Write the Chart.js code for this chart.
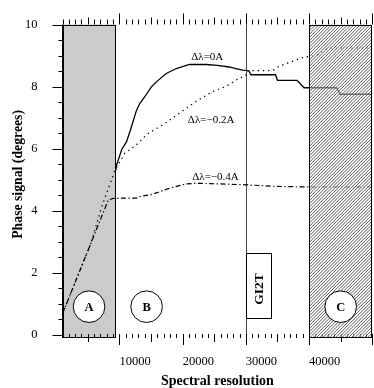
<!DOCTYPE html>
<html><head><meta charset="utf-8">
<script src="https://cdn.jsdelivr.net/npm/chart.js@4/dist/chart.umd.min.js"></script>
<style>html,body{margin:0;padding:0;background:#fff;overflow:hidden}</style>
</head><body>
<canvas id="c" width="374" height="388"></canvas>
<script>
// ---- data ----
const xTickLabels = [10000, 20000, 30000, 40000];
const yTickLabels = [0, 2, 4, 6, 8, 10];
const seriesNames = ['Δλ=0A', 'Δλ=−0.2A', 'Δλ=−0.4A'];

const res0   = [9450, 9560, 10350, 11130, 11920, 12700, 13220, 14010, 15060, 15850, 17420, 19000, 21080, 23710, 25500, 27370, 28430, 29460, 30000, 30500, 30800, 34700, 35000, 38100, 39200, 44350, 44900, 50000];
const phase0 = [5.30, 5.47, 5.96, 6.22, 6.71, 7.23, 7.45, 7.67, 7.99, 8.15, 8.42, 8.58, 8.71, 8.71, 8.68, 8.63, 8.58, 8.53, 8.52, 8.50, 8.38, 8.38, 8.20, 8.20, 7.96, 7.96, 7.75, 7.75];

const res02   = [1000, 5500, 7200, 9300, 10080, 10860, 11920, 12700, 13740, 14280, 16890, 19510, 22140, 24750, 26860, 28950, 30000, 30250, 34180, 35240, 37330, 39170, 41000, 43000, 50000];
const phase02 = [0.67, 2.95, 4.12, 5.30, 5.58, 5.85, 6.01, 6.12, 6.33, 6.45, 6.77, 7.14, 7.52, 7.84, 8.00, 8.27, 8.35, 8.51, 8.51, 8.65, 8.81, 8.95, 8.99, 9.24, 9.24];

const res04   = [1000, 8240, 9030, 10080, 12700, 13220, 15310, 17940, 20570, 22140, 25800, 30000, 34720, 40000, 50000];
const phase04 = [0.67, 4.34, 4.39, 4.40, 4.40, 4.45, 4.53, 4.72, 4.86, 4.88, 4.86, 4.83, 4.78, 4.76, 4.76];

const regionNames = ['A', 'B', 'C'];
const regionA = [1000, 9300];      // grey band (resolution)
const regionC = [40000, 50000];    // hatched band (resolution)
const gi2tName = 'GI2T';
const gi2tRange = [30000, 33900];  // resolution span of GI2T box
const gi2tPhase = [0.54, 2.62];

// annotation anchors (data coordinates)
const circleRes = [5200, 14300, 45000];
const circlePhase = 0.9;
const labelRes = [23900, 24500, 25200];
const labelPhase = [8.94, 6.93, 5.09];

const SERIF = '"Liberation Serif", "Times New Roman", serif';

function pts(xs, ys) { return xs.map((x, i) => ({ x: x, y: ys[i] })); }

const decor = {
  id: 'decor',
  beforeDatasetsDraw(chart) {
    const ctx = chart.ctx, xs = chart.scales.x, ys = chart.scales.y, a = chart.chartArea;
    ctx.save();
    // grey band A
    const ax0 = xs.getPixelForValue(regionA[0]), ax1 = Math.round(xs.getPixelForValue(regionA[1])) + 0.5;
    ctx.fillStyle = '#cbcbcb';
    ctx.fillRect(ax0, a.top, ax1 - ax0, a.bottom - a.top);
    // GI2T vertical line
    const gx = Math.round(xs.getPixelForValue(gi2tRange[0])) + 0.5;
    ctx.strokeStyle = '#444'; ctx.lineWidth = 1;
    ctx.beginPath(); ctx.moveTo(gx, a.top); ctx.lineTo(gx, a.bottom + 3); ctx.stroke();
    // ticks
    ctx.strokeStyle = '#000'; ctx.lineWidth = 1;
    ctx.beginPath();
    for (let v = 1000; v <= 50000; v += 1000) {
      const px = Math.round(xs.getPixelForValue(v)) + 0.5;
      let t, b0, b1;
      if (v % 10000 === 0) { t = 11; b0 = a.bottom - 4; b1 = a.bottom + 7; }
      else if (v % 5000 === 0) { t = 7; b0 = a.bottom - 4; b1 = a.bottom + 4; }
      else { t = 5; b0 = a.bottom - 4; b1 = a.bottom; }
      ctx.moveTo(px, a.top); ctx.lineTo(px, a.top - t);
      ctx.moveTo(px, b0); ctx.lineTo(px, b1);
    }
    for (let v = 0; v <= 10.001; v += 0.5) {
      const py = Math.round(ys.getPixelForValue(v)) + 0.5;
      const len = (Math.abs(v % 2) < 1e-6) ? 10 : 4;
      ctx.moveTo(a.left - len, py); ctx.lineTo(a.left, py);
    }
    ctx.moveTo(a.left, a.top); ctx.lineTo(a.left, a.bottom);
    ctx.stroke();
    ctx.restore();
  },
  afterDatasetsDraw(chart) {
    const ctx = chart.ctx, xs = chart.scales.x, ys = chart.scales.y, a = chart.chartArea;
    ctx.save();
    // hatched band C
    const cx0 = Math.round(xs.getPixelForValue(regionC[0])) + 0.5, cx1 = Math.round(xs.getPixelForValue(regionC[1])) - 0.5;
    ctx.save();
    ctx.beginPath(); ctx.rect(cx0, a.top, cx1 - cx0, a.bottom - a.top); ctx.clip();
    ctx.fillStyle = 'rgba(255,255,255,0.45)';
    ctx.fillRect(cx0, a.top, cx1 - cx0, a.bottom - a.top);
    ctx.strokeStyle = '#444'; ctx.lineWidth = 0.85;
    ctx.beginPath();
    const H = a.bottom - a.top;
    for (let s = cx0 - H; s < cx1 + 4; s += 3.2) {
      ctx.moveTo(s, a.bottom); ctx.lineTo(s + H, a.top);
    }
    ctx.stroke();
    ctx.restore();
    // borders of bands
    ctx.strokeStyle = '#000'; ctx.lineWidth = 1;
    const ax0 = Math.round(xs.getPixelForValue(regionA[0])) + 0.5, ax1 = Math.round(xs.getPixelForValue(regionA[1])) + 0.5;
    const top = Math.round(a.top) + 0.5, bot = Math.round(a.bottom) - 0.5;
    ctx.strokeRect(ax0, top, ax1 - ax0, bot - top);
    ctx.strokeRect(cx0, top, cx1 - cx0, bot - top);
    // circles A B C
    ctx.font = 'bold 12.5px ' + SERIF;
    ctx.textAlign = 'center'; ctx.textBaseline = 'middle';
    for (let i = 0; i < 3; i++) {
      const px = xs.getPixelForValue(circleRes[i]), py = ys.getPixelForValue(circlePhase);
      ctx.beginPath(); ctx.arc(px, py, 15.8, 0, Math.PI * 2);
      ctx.fillStyle = '#fff'; ctx.fill(); ctx.stroke();
      ctx.fillStyle = '#000'; ctx.fillText(regionNames[i], px, py + 1);
    }
    // GI2T box
    const gx0 = Math.round(xs.getPixelForValue(gi2tRange[0])) + 0.5, gx1 = Math.round(xs.getPixelForValue(gi2tRange[1])) + 0.5;
    const gy0 = Math.round(ys.getPixelForValue(gi2tPhase[1])) + 0.5, gy1 = Math.round(ys.getPixelForValue(gi2tPhase[0])) + 0.5;
    ctx.fillStyle = '#fff'; ctx.fillRect(gx0, gy0, gx1 - gx0, gy1 - gy0);
    ctx.strokeRect(gx0, gy0, gx1 - gx0, gy1 - gy0);
    ctx.save();
    ctx.translate((gx0 + gx1) / 2 + 1, (gy0 + gy1) / 2 + 3);
    ctx.rotate(-Math.PI / 2);
    ctx.fillStyle = '#000'; ctx.font = 'bold 13.5px ' + SERIF;
    ctx.fillText(gi2tName, 0, 0);
    ctx.restore();
    // curve labels
    ctx.font = '11px ' + SERIF; ctx.fillStyle = '#000';
    for (let i = 0; i < 3; i++) {
      ctx.fillText(seriesNames[i], xs.getPixelForValue(labelRes[i]), ys.getPixelForValue(labelPhase[i]));
    }
    ctx.restore();
  }
};

new Chart(document.getElementById('c'), {
  type: 'line',
  data: {
    datasets: [
      { label: seriesNames[0], data: pts(res0, phase0), borderColor: '#000', borderWidth: 1.3, pointRadius: 0, fill: false, tension: 0 },
      { label: seriesNames[1], data: pts(res02, phase02), borderColor: '#000', borderWidth: 1.3, borderDash: [1.3, 3.9], pointRadius: 0, fill: false, tension: 0 },
      { label: seriesNames[2], data: pts(res04, phase04), borderColor: '#000', borderWidth: 1.2, borderDash: [5, 2.5, 1.3, 2.5], pointRadius: 0, fill: false, tension: 0 }
    ]
  },
  options: {
    responsive: false, animation: false, devicePixelRatio: 1,
    layout: { padding: { left: 0, right: 1.7, top: 24, bottom: 0 } },
    plugins: { legend: { display: false }, tooltip: { enabled: false } },
    scales: {
      x: {
        type: 'linear', min: 1000, max: 50000,
        grid: { display: false }, border: { display: false },
        afterBuildTicks: s => { s.ticks = xTickLabels.map(v => ({ value: v })); },
        afterFit: s => { s.height = 50; },
        ticks: { font: { family: SERIF, size: 12.5 }, color: '#000', padding: 7.8, maxRotation: 0, autoSkip: false, align: 'start', callback: v => String(v) },
        title: { display: true, text: 'Spectral resolution', color: '#000', font: { family: SERIF, size: 14, weight: 'bold', lineHeight: 1 }, padding: { top: 0, bottom: 0 } }
      },
      y: {
        type: 'linear', min: -0.11, max: 10,
        grid: { display: false }, border: { display: false },
        afterBuildTicks: s => { s.ticks = yTickLabels.map(v => ({ value: v })); },
        afterFit: s => { s.width = 62.5; },
        ticks: { font: { family: SERIF, size: 12.5 }, color: '#000', padding: 17, autoSkip: false, callback: v => String(v) },
        title: { display: true, text: '\u00a0\u00a0\u00a0\u00a0Phase signal (degrees)', color: '#000', font: { family: SERIF, size: 13.75, weight: 'bold', lineHeight: 1.2 }, padding: { top: 10.5, bottom: 0 } }
      }
    }
  },
  plugins: [decor]
});
</script>
</body></html>
